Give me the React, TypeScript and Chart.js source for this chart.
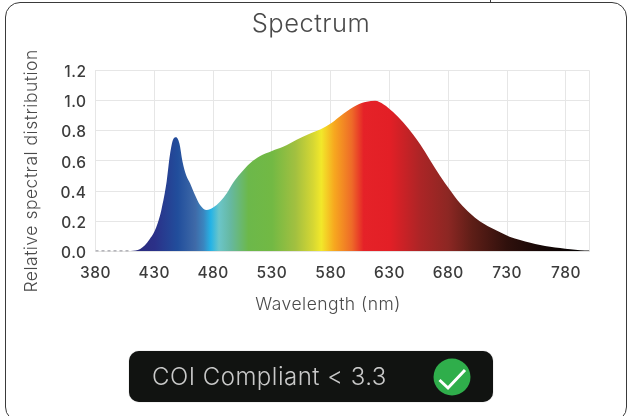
import React, { useEffect, useRef } from "react";
import { Chart, registerables } from "chart.js";

Chart.register(...registerables);

const wavelengths = [410, 414, 418, 422, 426, 430, 433, 436, 440.5, 443.3, 446.2, 448.5, 451.3, 454, 457, 460.4, 464.6, 468.9, 474.5, 480, 486, 491.6, 497, 503, 511.4, 520, 530, 540, 551, 562.5, 571, 580, 591, 602, 610.6, 617.7, 625, 633, 641.7, 650, 656, 664.5, 673, 681.4, 690, 698.4, 707, 715.4, 724, 732, 741, 749.7, 758, 766.5, 775, 783.7, 792, 800];
const intensity = [0.002, 0.006, 0.016, 0.04, 0.08, 0.13, 0.19, 0.274, 0.463, 0.64, 0.746, 0.757, 0.717, 0.595, 0.507, 0.452, 0.374, 0.308, 0.274, 0.29, 0.33, 0.385, 0.455, 0.515, 0.585, 0.632, 0.666, 0.695, 0.74, 0.782, 0.808, 0.848, 0.915, 0.97, 0.992, 0.999, 0.975, 0.925, 0.855, 0.775, 0.71, 0.605, 0.5, 0.407, 0.319, 0.252, 0.197, 0.159, 0.126, 0.097, 0.075, 0.057, 0.042, 0.031, 0.022, 0.013, 0.007, 0.005];
const noiseWavelengths = [380, 395, 410];
const noiseIntensity = [0.001, 0.001, 0.001];
const gradientNm = [410, 430, 450, 465, 472, 478, 485, 495, 510, 530, 550, 565, 572, 583, 598, 608, 630, 656, 680, 700, 730, 760, 800];
const gradientColors = ["#2a2a7a", "#2b3088", "#214e9c", "#3f6aa8", "#3a86c0", "#25b3e6", "#6bc5c9", "#66b8a0", "#6cb84a", "#72b944", "#a2c040", "#d6d733", "#f2e82a", "#f7a81f", "#ee6a28", "#e52228", "#e31f26", "#ac2526", "#8c2723", "#5e1e17", "#2f100c", "#150706", "#000000"];
const xTickValues = [380, 430, 480, 530, 580, 630, 680, 730, 780, 800];

const titleText = "Spectrum";
const xAxisTitle = "Wavelength (nm)";
const yAxisTitle = "Relative spectral distribution";
const badgeText = "COI Compliant < 3.3";
const fontFamily = "Inter, 'Open Sans', sans-serif";

const shiftDraw = (scale: any, method: string, dx: number, dy: number) => {
  const key = "__shifted_" + method;
  if (scale[key]) return;
  const original = scale[method];
  scale[method] = function (...args: any[]) {
    const ctx = scale.ctx;
    ctx.save();
    ctx.translate(dx, dy);
    original.apply(scale, args);
    ctx.restore();
  };
  scale[key] = true;
};

const placement = {
  id: "placement",
  afterLayout(chart: any) {
    const block = chart.titleBlock;
    if (block) {
      const delta = 311 - (block.left + block.right) / 2;
      block.left += delta;
      block.right += delta;
    }
    shiftDraw(chart.scales.x, "drawTitle", -14.5, 0);
    shiftDraw(chart.scales.y, "drawTitle", 0, 10);
    shiftDraw(chart.scales.y, "drawLabels", 0, 2);
  },
  beforeDraw(chart: any) {
    chart.ctx.letterSpacing = "0.5px";
  },
};

export default function App() {
  const ref = useRef<HTMLCanvasElement>(null);
  useEffect(() => {
    const chart = new Chart(ref.current as HTMLCanvasElement, {
      type: "line",
      plugins: [placement],
      data: {
        datasets: [
          {
            data: wavelengths.map((x, i) => ({ x, y: intensity[i] })),
            borderWidth: 0,
            pointRadius: 0,
            cubicInterpolationMode: "monotone",
            fill: "origin",
            backgroundColor: (context: any) => {
              const { chart: c } = context;
              const xs = c.scales.x;
              if (!c.chartArea || !xs) return "#888888";
              const g = c.ctx.createLinearGradient(xs.left, 0, xs.right, 0);
              gradientNm.forEach((nm, i) => {
                g.addColorStop((nm - 380) / 420, gradientColors[i]);
              });
              return g;
            },
          },
          {
            data: noiseWavelengths.map((x, i) => ({ x, y: noiseIntensity[i] })),
            borderColor: "#6f6f7a",
            borderWidth: 1.5,
            borderDash: [3, 3],
            pointRadius: 0,
            fill: false,
          },
        ],
      },
      options: {
        responsive: false,
        animation: false,
        parsing: false,
        layout: { padding: { top: 0, left: 0, right: 38.5, bottom: 0 } },
        plugins: {
          legend: { display: false },
          tooltip: { enabled: false },
          title: {
            display: true,
            text: titleText,
            color: "#4a4a4a",
            font: { family: fontFamily, size: 25.5, weight: "300" },
            padding: { top: 9.2, bottom: 30.7 },
          },
        },
        scales: {
          x: {
            type: "linear",
            min: 380,
            max: 800,
            afterFit: (s: any) => {
              s.height = 164.7;
            },
            afterBuildTicks: (s: any) => {
              s.ticks = xTickValues.map((value) => ({ value }));
            },
            grid: { color: "#e6e6e6", lineWidth: 1, drawTicks: false },
            border: { color: "#e6e6e6" },
            ticks: {
              autoSkip: false,
              maxRotation: 0,
              padding: 13,
              color: "#3c3c3c",
              font: { family: fontFamily, size: 15.5, weight: "500" },
              callback: (v: any) => (v === 800 ? "" : String(v)),
            },
            title: {
              display: true,
              text: xAxisTitle,
              color: "#4a4a4a",
              font: { family: fontFamily, size: 17.5, weight: "300" },
              padding: { top: 0, bottom: 100.5 },
            },
          },
          y: {
            min: 0,
            max: 1.2,
            afterFit: (s: any) => {
              s.width = 95.5;
            },
            grid: { color: "#e6e6e6", lineWidth: 1, drawTicks: false },
            border: { color: "#e6e6e6" },
            ticks: {
              stepSize: 0.2,
              padding: 9,
              color: "#3c3c3c",
              font: { family: fontFamily, size: 15.5, weight: "500" },
              callback: (v: any) => Number(v).toFixed(1),
            },
            title: {
              display: true,
              text: yAxisTitle,
              color: "#4a4a4a",
              font: { family: fontFamily, size: 17.5, weight: "300" },
              padding: { top: 21.5, bottom: 0 },
            },
          },
        },
      },
    } as any);
    return () => chart.destroy();
  }, []);

  return (
    <div style={{ position: "fixed", left: 0, top: 0, width: 628, height: 416, background: "#ffffff", overflow: "hidden" }}>
      <div style={{ position: "absolute", left: 4.5, top: 2, width: 622, height: 420, boxSizing: "border-box", border: "1.5px solid #3a3a3a", borderRadius: 15 }} />
      <div style={{ position: "absolute", left: 489.5, top: 0, width: 1.5, height: 3, background: "#3a3a3a" }} />
      <canvas ref={ref} width={628} height={416} style={{ position: "absolute", left: 0, top: 0, width: 628, height: 416 }} />
      <div style={{ position: "absolute", left: 129, top: 351, width: 364, height: 51, borderRadius: 10, background: "#111311", boxShadow: "0 0 1px #888" }} />
      <div style={{ position: "absolute", left: 152, top: 351, height: 51, lineHeight: "51px", fontFamily, fontWeight: 300, fontSize: 24, letterSpacing: 0.5, color: "#c9c9c9", whiteSpace: "nowrap" }}>{badgeText}</div>
      <svg style={{ position: "absolute", left: 433, top: 358 }} width={38} height={38} viewBox="0 0 38 38">
        <circle cx={19} cy={19} r={18.5} fill="#2fae4b" />
        <polyline points="6.5,22 15,30 32,12" fill="none" stroke="#ffffff" strokeWidth={3} />
      </svg>
    </div>
  );
}
